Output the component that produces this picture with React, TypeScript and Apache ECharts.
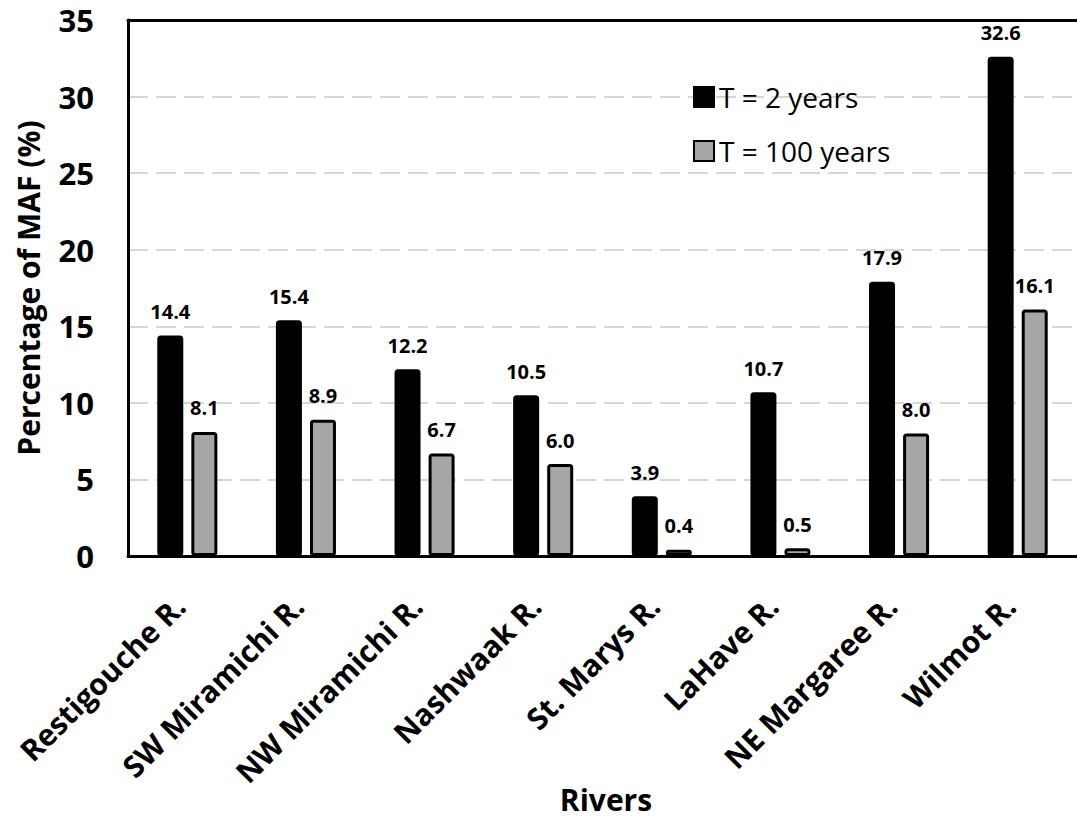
import React, { useEffect, useRef } from "react";
import * as echarts from "echarts";

const categories = [
  "Restigouche R.",
  "SW Miramichi R.",
  "NW Miramichi R.",
  "Nashwaak R.",
  "St. Marys R.",
  "LaHave R.",
  "NE Margaree R.",
  "Wilmot R.",
];
const t2Values = [14.4, 15.4, 12.2, 10.5, 3.9, 10.7, 17.9, 32.6];
const t100Values = [8.1, 8.9, 6.7, 6.0, 0.4, 0.5, 8.0, 16.1];
const seriesNames = ["T = 2 years", "T = 100 years"];
const yTicks = { min: 0, max: 35, interval: 5 };

const FONT = "'Open Sans', sans-serif";

export default function App() {
  const ref = useRef<HTMLDivElement>(null);
  useEffect(() => {
    if (!ref.current) return;
    const chart = echarts.init(ref.current, undefined, { renderer: "svg" });
    const labelStyle = {
      show: true,
      position: "top",
      distance: 14,
      fontFamily: FONT,
      fontWeight: "bold",
      fontSize: 20,
      color: "#000",
      formatter: (p: any) => Number(p.value).toFixed(1),
    };
    const frameLine = { show: true, lineStyle: { color: "#000", width: 3 } };
    chart.setOption({
      animation: false,
      backgroundColor: "#fff",
      textStyle: { fontFamily: FONT },
      grid: {
        left: 128,
        top: 20,
        right: -4.5,
        bottom: 262,
      },
      legend: {
        orient: "vertical",
        left: 688,
        top: 76,
        itemWidth: 20,
        itemHeight: 20,
        itemGap: 22,
        icon: "rect",
        textStyle: { fontFamily: FONT, fontSize: 28, color: "#000", lineHeight: 32 },
        data: seriesNames,
      },
      xAxis: [
        {
          type: "category",
          data: categories,
          axisLine: frameLine,
          axisTick: { show: false },
          z: 5,
          axisLabel: {
            rotate: 45,
            interval: 0,
            margin: 37,
            padding: [0, 11, 0, 0],
            fontFamily: FONT,
            fontWeight: "bold",
            fontSize: 30,
            color: "#000",
          },
        },
        {
          type: "category",
          data: categories,
          position: "top",
          axisLine: frameLine,
          axisTick: { show: false },
          axisLabel: { show: false },
          z: 5,
        },
      ],
      yAxis: {
        type: "value",
        min: yTicks.min,
        max: yTicks.max,
        interval: yTicks.interval,
        axisLine: frameLine,
        axisTick: { show: false },
        axisLabel: {
          margin: 34,
          fontFamily: FONT,
          fontWeight: "bold",
          fontSize: 31,
          color: "#000",
        },
        splitLine: {
          show: true,
          lineStyle: { color: "#d6d6d6", width: 2, type: [20, 8] },
        },
      },
      graphic: [
        {
          type: "text",
          x: 28,
          y: 288,
          rotation: Math.PI / 2,
          style: {
            text: "Percentage of MAF (%)",
            fontFamily: FONT,
            fontWeight: "bold",
            fontSize: 30,
            fill: "#000",
            align: "center",
            verticalAlign: "middle",
          },
        },
        {
          type: "text",
          x: 606,
          y: 799,
          style: {
            text: "Rivers",
            fontFamily: FONT,
            fontWeight: "bold",
            fontSize: 30,
            fill: "#000",
            align: "center",
            verticalAlign: "middle",
          },
        },
      ],
      series: [
        {
          name: seriesNames[0],
          type: "bar",
          data: t2Values,
          barWidth: 26,
          barGap: "31%",
          itemStyle: { color: "#000", borderColor: "#000", borderWidth: 3, borderRadius: 2 },
          label: labelStyle,
        },
        {
          name: seriesNames[1],
          type: "bar",
          data: t100Values,
          barWidth: 26,
          itemStyle: { color: "#a6a6a6", borderColor: "#000", borderWidth: 3, borderRadius: 2 },
          label: labelStyle,
        },
      ],
    });
    return () => chart.dispose();
  }, []);
  return (
    <div
      ref={ref}
      style={{ position: "absolute", left: 0, top: 0, width: 1077, height: 818 }}
    />
  );
}
